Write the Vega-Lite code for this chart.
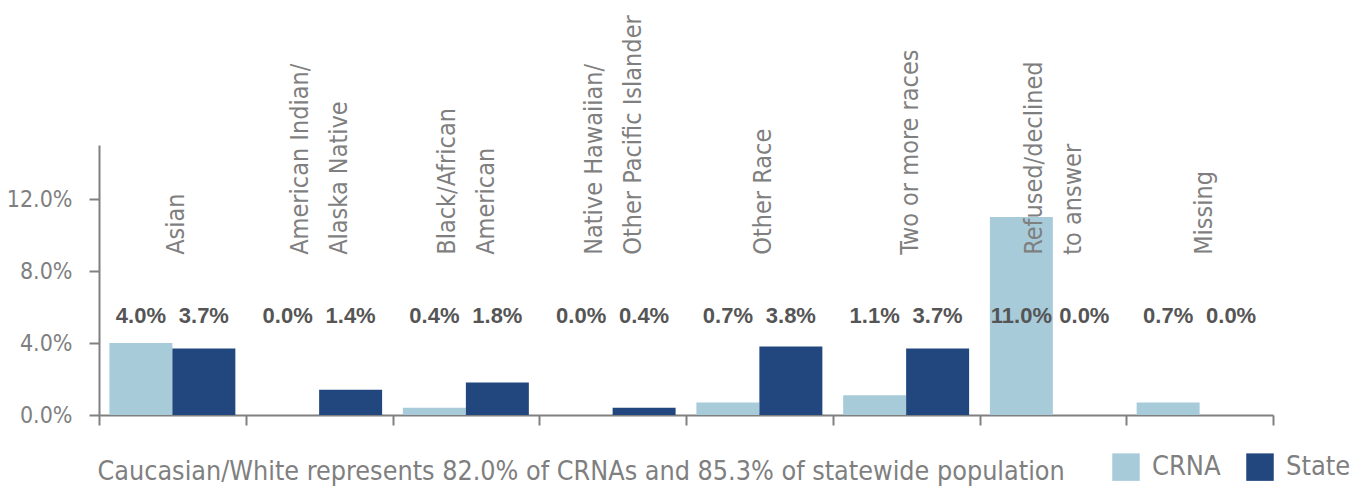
{
  "$schema": "https://vega.github.io/schema/vega-lite/v6.json",
  "width": 1174,
  "height": 270,
  "autosize": "none",
  "padding": {"left": 99, "top": 145, "right": 90, "bottom": 71},
  "background": "white",
  "config": {
    "view": {"stroke": null},
    "font": "DejaVu Sans Condensed, sans-serif"
  },
  "datasets": {
    "bars": [
      {"category": "Asian", "series": "CRNA", "value": 0.040},
      {"category": "Asian", "series": "State", "value": 0.037},
      {"category": "American Indian/Alaska Native", "series": "CRNA", "value": 0.000},
      {"category": "American Indian/Alaska Native", "series": "State", "value": 0.014},
      {"category": "Black/African American", "series": "CRNA", "value": 0.004},
      {"category": "Black/African American", "series": "State", "value": 0.018},
      {"category": "Native Hawaiian/Other Pacific Islander", "series": "CRNA", "value": 0.000},
      {"category": "Native Hawaiian/Other Pacific Islander", "series": "State", "value": 0.004},
      {"category": "Other Race", "series": "CRNA", "value": 0.007},
      {"category": "Other Race", "series": "State", "value": 0.038},
      {"category": "Two or more races", "series": "CRNA", "value": 0.011},
      {"category": "Two or more races", "series": "State", "value": 0.037},
      {"category": "Refused/declined to answer", "series": "CRNA", "value": 0.110},
      {"category": "Refused/declined to answer", "series": "State", "value": 0.000},
      {"category": "Missing", "series": "CRNA", "value": 0.007},
      {"category": "Missing", "series": "State", "value": 0.000}
    ],
    "cats": [
      {"category": "Asian", "label": ["Asian"]},
      {"category": "American Indian/Alaska Native", "label": ["American Indian/", "Alaska Native"]},
      {"category": "Black/African American", "label": ["Black/African", "American"]},
      {"category": "Native Hawaiian/Other Pacific Islander", "label": ["Native Hawaiian/", "Other Pacific Islander"]},
      {"category": "Other Race", "label": ["Other Race"]},
      {"category": "Two or more races", "label": ["Two or more races"]},
      {"category": "Refused/declined to answer", "label": ["Refused/declined", "to answer"]},
      {"category": "Missing", "label": ["Missing"]}
    ]
  },
  "layer": [
    {
      "data": {"name": "bars"},
      "mark": {"type": "bar"},
      "encoding": {
        "x": {
          "field": "category", "type": "nominal",
          "scale": {
            "domain": ["Asian", "American Indian/Alaska Native", "Black/African American", "Native Hawaiian/Other Pacific Islander", "Other Race", "Two or more races", "Refused/declined to answer", "Missing"],
            "paddingInner": 0, "paddingOuter": 0
          },
          "axis": {
            "labels": false,
            "tickBand": "extent",
            "ticks": true,
            "tickSize": 10,
            "tickWidth": 2,
            "tickColor": "#808080",
            "domainColor": "#808080",
            "domainWidth": 2,
            "title": "Caucasian/White represents 82.0% of CRNAs and 85.3% of statewide population",
            "titleFont": "DejaVu Sans Condensed, sans-serif",
            "titleFontSize": 26.7,
            "titleFontWeight": "normal",
            "titleColor": "#7f7f7f",
            "titleAnchor": "start",
            "titleAlign": "left",
            "titleBaseline": "alphabetic",
            "titleX": -2,
            "titleY": 64
          }
        },
        "xOffset": {
          "field": "series", "type": "nominal",
          "scale": {"paddingInner": 0, "paddingOuter": 0.165}
        },
        "y": {
          "field": "value", "type": "quantitative",
          "scale": {"domain": [0, 0.15], "nice": false},
          "axis": {
            "values": [0, 0.04, 0.08, 0.12],
            "format": ".1%",
            "grid": false,
            "title": null,
            "labelFont": "DejaVu Sans Condensed, sans-serif",
            "labelFontSize": 23,
            "labelColor": "#7f7f7f",
            "labelPadding": 17,
            "tickSize": 10,
            "tickWidth": 2,
            "tickColor": "#808080",
            "domainColor": "#808080",
            "domainWidth": 2
          }
        },
        "color": {
          "field": "series", "type": "nominal",
          "scale": {"domain": ["CRNA", "State"], "range": ["#a8cbda", "#21477e"]},
          "legend": {
            "title": null,
            "orient": "none",
            "direction": "horizontal",
            "legendX": 1013,
            "legendY": 308,
            "symbolType": "square",
            "symbolSize": 756,
            "symbolStrokeWidth": 0,
            "symbolOpacity": 1,
            "labelFont": "DejaVu Sans Condensed, sans-serif",
            "labelFontSize": 27,
            "labelColor": "#7f7f7f",
            "labelOffset": 12,
            "columnPadding": 25
          }
        }
      }
    },
    {
      "data": {"name": "bars"},
      "mark": {"type": "text", "font": "Liberation Sans", "fontWeight": "bold", "fontSize": 22, "color": "#555555", "baseline": "middle", "align": "center"},
      "encoding": {
        "x": {"field": "category", "type": "nominal"},
        "xOffset": {"field": "series", "type": "nominal"},
        "y": {"datum": 0.055},
        "text": {"field": "value", "type": "quantitative", "format": ".1%"}
      }
    },
    {
      "data": {"name": "cats"},
      "transform": [{"filter": "length(datum.label) == 1"}],
      "mark": {"type": "text", "font": "DejaVu Sans Condensed, sans-serif", "fontSize": 25, "color": "#7f7f7f", "angle": 270, "align": "left", "baseline": "middle", "dy": 4},
      "encoding": {
        "x": {"field": "category", "type": "nominal"},
        "y": {"datum": 0.089},
        "text": {"field": "label"}
      }
    },
    {
      "data": {"name": "cats"},
      "transform": [{"filter": "length(datum.label) == 2"}],
      "mark": {"type": "text", "font": "DejaVu Sans Condensed, sans-serif", "fontSize": 25, "color": "#7f7f7f", "angle": 270, "align": "left", "baseline": "middle", "lineHeight": 39, "dy": -19},
      "encoding": {
        "x": {"field": "category", "type": "nominal"},
        "y": {"datum": 0.089},
        "text": {"field": "label"}
      }
    }
  ]
}
